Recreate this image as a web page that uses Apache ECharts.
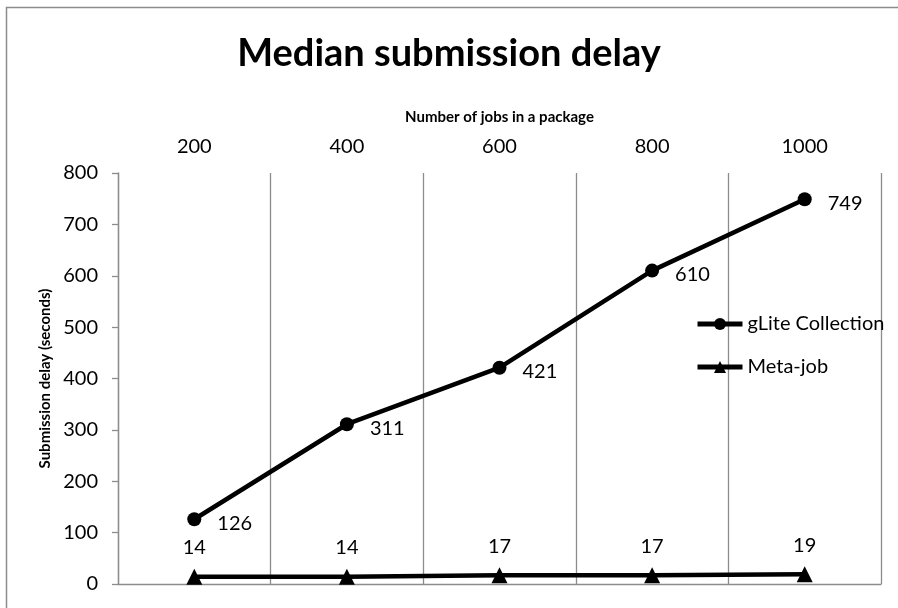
<!DOCTYPE html>
<html>
<head>
<meta charset="utf-8">
<script src="https://cdn.jsdelivr.net/npm/echarts@6/dist/echarts.min.js"></script>
<style>html,body{margin:0;padding:0;background:#fff}#c{width:898px;height:608px}</style>
</head>
<body>
<div id="c"></div>
<script>
const categories = ['200', '400', '600', '800', '1000'];
const gliteValues = [126, 311, 421, 610, 749];
const metaValues = [14, 14, 17, 17, 19];
const seriesNames = ['gLite Collection', 'Meta-job'];
const FONT = 'Lato';

const chart = echarts.init(document.getElementById('c'), null, {renderer: 'canvas'});
chart.setOption({
  backgroundColor: '#fff',
  animation: false,
  textStyle: {fontFamily: FONT, color: '#000'},
  title: {
    text: 'Median submission delay',
    left: 'center',
    top: 30,
    textStyle: {fontFamily: FONT, fontSize: 38, fontWeight: 'bold', color: '#000'}
  },
  graphic: [{
    type: 'rect', left: 4, top: 5, silent: true,
    shape: {width: 1000, height: 1000},
    style: {fill: 'none', stroke: '#8c8c8c', lineWidth: 1.5}
  }],
  legend: {
    orient: 'vertical',
    left: 690, top: 307,
    itemWidth: 45, itemHeight: 15, itemGap: 19,
    lineStyle: {width: 5, color: '#000'},
    itemStyle: {color: '#000'},
    textStyle: {fontFamily: FONT, fontSize: 20, lineHeight: 24, color: '#000'},
    data: seriesNames
  },
  grid: {left: 118, right: 17, top: 173, bottom: 24},
  xAxis: {
    type: 'category',
    position: 'top',
    data: categories,
    boundaryGap: true,
    name: 'Number of jobs in a package',
    nameLocation: 'middle',
    nameGap: 48,
    nameTextStyle: {fontFamily: FONT, fontSize: 15, fontWeight: 'bold', color: '#000'},
    axisLine: {show: true, lineStyle: {color: '#8c8c8c', width: 1.3}},
    axisTick: {show: false},
    axisLabel: {fontFamily: FONT, fontSize: 20, color: '#000', margin: 16},
    splitLine: {show: true, interval: 0, lineStyle: {color: '#8c8c8c', width: 1.3}}
  },
  yAxis: {
    type: 'value',
    min: 0, max: 800, interval: 100,
    name: 'Submission delay (seconds)',
    nameLocation: 'middle',
    nameGap: 58,
    nameTextStyle: {fontFamily: FONT, fontSize: 15, fontWeight: 'bold', color: '#000'},
    axisLine: {show: true, lineStyle: {color: '#8c8c8c', width: 1.3}},
    axisTick: {show: true, length: 6, lineStyle: {color: '#8c8c8c', width: 1.3}},
    axisLabel: {fontFamily: FONT, fontSize: 20, color: '#000', margin: 20},
    splitLine: {show: false}
  },
  series: [
    {
      name: seriesNames[0],
      type: 'line',
      data: gliteValues,
      symbol: 'circle',
      symbolSize: 14,
      lineStyle: {color: '#000', width: 4.5},
      itemStyle: {color: '#000'},
      label: {show: true, position: 'right', distance: 16, offset: [0, 4],
              fontFamily: FONT, fontSize: 20, color: '#000'}
    },
    {
      name: seriesNames[1],
      type: 'line',
      data: metaValues,
      symbol: 'triangle',
      symbolSize: 16,
      lineStyle: {color: '#000', width: 4.5},
      itemStyle: {color: '#000'},
      label: {show: true, position: 'top', distance: 11,
              fontFamily: FONT, fontSize: 20, color: '#000'}
    }
  ]
});
</script>
</body>
</html>
